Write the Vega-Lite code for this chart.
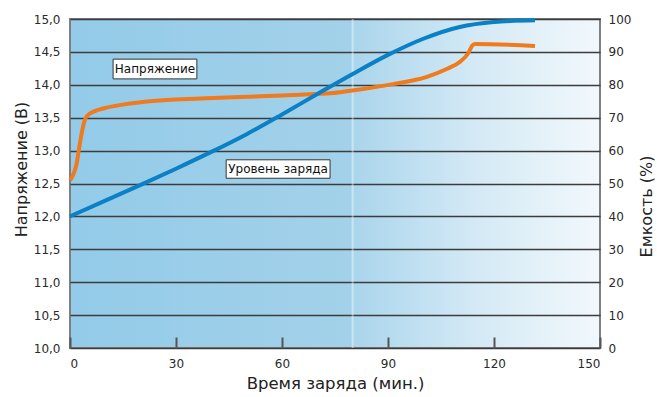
{
  "$schema": "https://vega.github.io/schema/vega-lite/v6.json",
  "width": 530,
  "height": 329,
  "autosize": {"type": "none"},
  "padding": {"left": 70, "top": 19, "right": 57, "bottom": 49},
  "background": "white",
  "view": {
    "fill": {
      "gradient": "linear",
      "x1": 0, "y1": 0, "x2": 1, "y2": 0,
      "stops": [
        {"offset": 0, "color": "#93CBE8"},
        {"offset": 0.53, "color": "#A3D1EA"},
        {"offset": 0.535, "color": "#AAD5EC"},
        {"offset": 0.76, "color": "#D3E9F5"},
        {"offset": 1, "color": "#F2F8FC"}
      ]
    },
    "stroke": "#7f7f7f",
    "strokeWidth": 2
  },
  "config": {
    "font": "DejaVu Sans",
    "axis": {
      "labelFont": "DejaVu Sans",
      "titleFont": "DejaVu Sans",
      "labelFontSize": 12,
      "labelColor": "#2a2a2a",
      "titleFontSize": 16,
      "titleFontWeight": "normal",
      "titleColor": "#222222"
    }
  },
  "datasets": {
    "voltage": [
      {"t": 0, "v": 12.55},
      {"t": 1.9, "v": 12.81},
      {"t": 2.8, "v": 13.11},
      {"t": 3.8, "v": 13.39},
      {"t": 4.7, "v": 13.52},
      {"t": 7, "v": 13.6},
      {"t": 9.4, "v": 13.64},
      {"t": 17.5, "v": 13.72},
      {"t": 27.4, "v": 13.77},
      {"t": 36.8, "v": 13.79},
      {"t": 46.1, "v": 13.81},
      {"t": 55.7, "v": 13.83},
      {"t": 65.1, "v": 13.85},
      {"t": 73.6, "v": 13.87},
      {"t": 82.1, "v": 13.93},
      {"t": 91.5, "v": 14.01},
      {"t": 101, "v": 14.12},
      {"t": 106.6, "v": 14.24},
      {"t": 110.4, "v": 14.35},
      {"t": 112.7, "v": 14.48},
      {"t": 113.9, "v": 14.6},
      {"t": 114.6, "v": 14.62},
      {"t": 131.6, "v": 14.59}
    ],
    "capacity": [
      {"t": 0, "c": 40},
      {"t": 10, "c": 44.8},
      {"t": 20, "c": 49.6},
      {"t": 30, "c": 54.5},
      {"t": 40, "c": 59.6},
      {"t": 50, "c": 65},
      {"t": 60, "c": 71},
      {"t": 70, "c": 77.2},
      {"t": 80, "c": 83.3},
      {"t": 90, "c": 89.1},
      {"t": 100, "c": 94},
      {"t": 110, "c": 97.5},
      {"t": 120, "c": 99.1},
      {"t": 131.6, "c": 99.6}
    ]
  },
  "layer": [
    {
      "data": {"values": [{}]},
      "mark": {"type": "rule", "color": "#FFFFFF", "strokeWidth": 2, "opacity": 0.4},
      "encoding": {
        "x": {
          "datum": 80,
          "type": "quantitative",
          "scale": {"domain": [0, 150], "nice": false},
          "axis": {
            "title": "Время заряда (мин.)",
            "values": [0, 30, 60, 90, 120, 150],
            "domain": false,
            "grid": false,
            "tickSize": -11,
            "tickWidth": 2,
            "tickColor": "#555555",
            "labelPadding": 21,
            "titlePadding": 6,
            "titleFontSize": 16.5
          }
        }
      }
    },
    {
      "data": {"name": "voltage"},
      "mark": {"type": "line", "color": "#F07A1E", "strokeWidth": 4, "interpolate": "monotone"},
      "encoding": {
        "x": {"field": "t", "type": "quantitative"},
        "y": {
          "field": "v",
          "type": "quantitative",
          "scale": {"domain": [10, 15], "nice": false},
          "axis": {
            "title": "Напряжение (В)",
            "orient": "left",
            "values": [10, 10.5, 11, 11.5, 12, 12.5, 13, 13.5, 14, 14.5, 15],
            "labelExpr": "replace(format(datum.value, '.1f'), '.', ',')",
            "domain": false,
            "ticks": false,
            "labelPadding": 10,
            "grid": true,
            "gridColor": "#3c3c3c",
            "gridWidth": 1.5,
            "titlePadding": 4,
            "titleY": 150
          }
        }
      }
    },
    {
      "data": {"name": "capacity"},
      "mark": {"type": "line", "color": "#0A80C6", "strokeWidth": 4, "interpolate": "monotone"},
      "encoding": {
        "x": {"field": "t", "type": "quantitative"},
        "y": {
          "field": "c",
          "type": "quantitative",
          "scale": {"domain": [0, 100], "nice": false},
          "axis": {
            "title": "Емкость (%)",
            "orient": "right",
            "values": [0, 10, 20, 30, 40, 50, 60, 70, 80, 90, 100],
            "domain": false,
            "ticks": false,
            "grid": false,
            "labelPadding": 8,
            "titleAngle": 270,
            "titleBaseline": "top",
            "titlePadding": 8,
            "titleY": 187
          }
        }
      }
    },
    {
      "data": {"values": [{"label": "Напряжение"}]},
      "mark": {"type": "rect", "fill": "white", "stroke": "#333333", "strokeWidth": 1},
      "encoding": {
        "x": {"datum": 12.2, "type": "quantitative"},
        "x2": {"datum": 35.9},
        "y": {"datum": 14.39, "type": "quantitative", "scale": {"domain": [10, 15], "nice": false}, "axis": null},
        "y2": {"datum": 14.09}
      }
    },
    {
      "data": {"values": [{"label": "Напряжение"}]},
      "mark": {"type": "text", "fontSize": 12, "color": "#111111", "baseline": "middle", "align": "center"},
      "encoding": {
        "text": {"field": "label"},
        "x": {"datum": 24.05, "type": "quantitative"},
        "y": {"datum": 14.24, "type": "quantitative", "scale": {"domain": [10, 15], "nice": false}, "axis": null}
      }
    },
    {
      "data": {"values": [{"label": "Уровень заряда"}]},
      "mark": {"type": "rect", "fill": "white", "stroke": "#333333", "strokeWidth": 1},
      "encoding": {
        "x": {"datum": 44.2, "type": "quantitative"},
        "x2": {"datum": 73.6},
        "y": {"datum": 12.86, "type": "quantitative", "scale": {"domain": [10, 15], "nice": false}, "axis": null},
        "y2": {"datum": 12.58}
      }
    },
    {
      "data": {"values": [{"label": "Уровень заряда"}]},
      "mark": {"type": "text", "fontSize": 12, "color": "#111111", "baseline": "middle", "align": "center"},
      "encoding": {
        "text": {"field": "label"},
        "x": {"datum": 58.9, "type": "quantitative"},
        "y": {"datum": 12.72, "type": "quantitative", "scale": {"domain": [10, 15], "nice": false}, "axis": null}
      }
    }
  ],
  "resolve": {"scale": {"y": "independent"}}
}
